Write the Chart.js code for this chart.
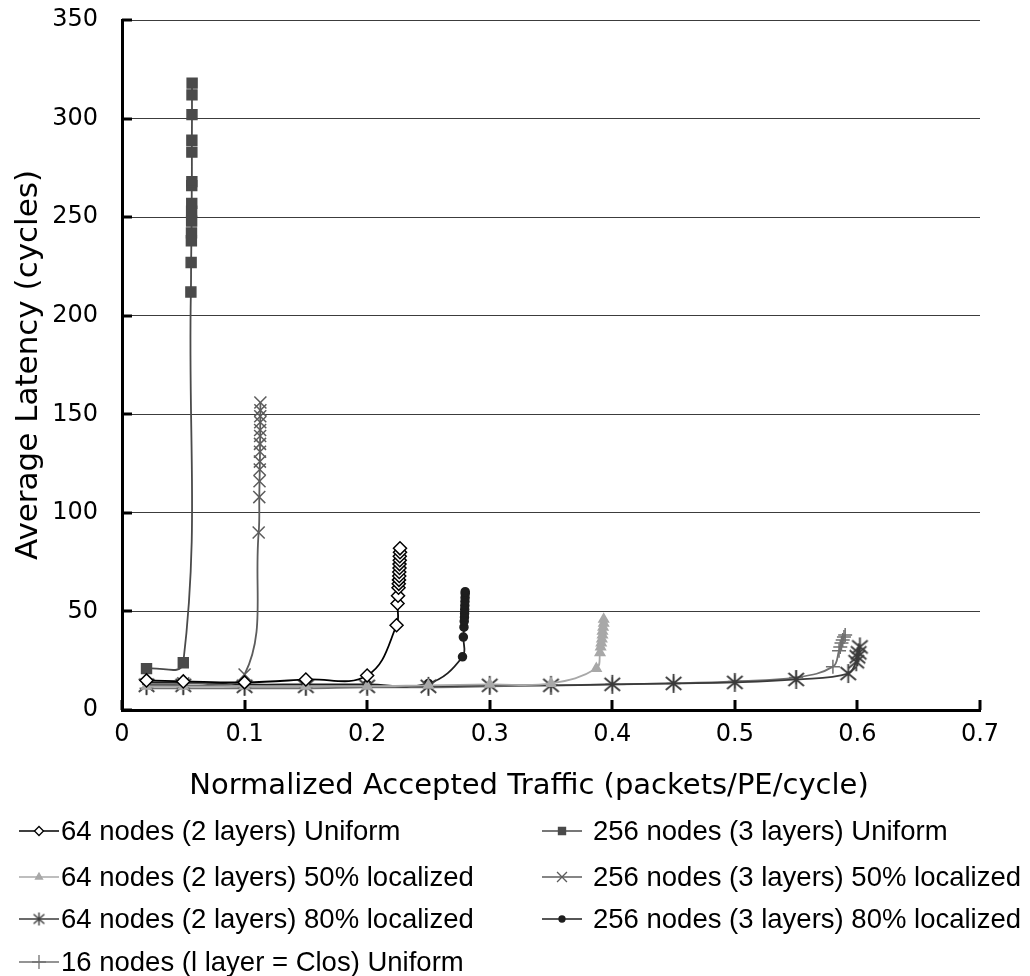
<!DOCTYPE html>
<html>
<head>
<meta charset="utf-8">
<script src="https://cdn.jsdelivr.net/npm/chart.js@4.4.1/dist/chart.umd.min.js"></script>
<style>
  html, body { margin: 0; padding: 0; background: #fff; }
  #wrap { width: 1030px; height: 976px; }
</style>
</head>
<body>
<div id="wrap"><canvas id="latencyChart"></canvas></div>
<script>
// accepted traffic (x) and average latency (y) per configuration
const uni64X = [0.02, 0.05, 0.1, 0.15, 0.2, 0.224, 0.2248, 0.2252, 0.2256, 0.2258, 0.226, 0.2262, 0.2262, 0.2264, 0.2264, 0.2266, 0.2266, 0.2268, 0.2268];
const uni64Y = [15, 14.5, 14, 15.5, 17.5, 43, 54, 58, 62, 64, 66, 68, 70, 72, 74, 76, 78, 80, 82];

const uni256X = [0.02, 0.05, 0.0562, 0.0564, 0.0566, 0.0567, 0.0568, 0.0568, 0.0569, 0.0569, 0.057, 0.057, 0.057, 0.0571, 0.0571, 0.0572];
const uni256Y = [21, 24, 212, 227, 238, 242, 248, 253, 257, 266, 268, 283, 289, 302, 312, 318];

const loc50_64X = [0.02, 0.05, 0.1, 0.15, 0.2, 0.25, 0.3, 0.35, 0.387, 0.39, 0.3905, 0.391, 0.3915, 0.392, 0.392, 0.3925, 0.393, 0.393];
const loc50_64Y = [12, 12, 12, 12, 12, 12.5, 13, 13.5, 21, 29, 32, 34, 36, 38, 40, 42, 44, 46];

const loc50_256X = [0.02, 0.05, 0.1, 0.1115, 0.112, 0.1122, 0.1124, 0.1125, 0.1126, 0.1126, 0.1127, 0.1127, 0.1128, 0.1128, 0.1129, 0.1129];
const loc50_256Y = [13, 13.5, 18, 90, 108, 116, 122, 126, 131, 135, 139, 142, 146, 149, 152, 156];

const loc80_64X = [0.02, 0.05, 0.1, 0.15, 0.2, 0.25, 0.3, 0.35, 0.4, 0.45, 0.5, 0.55, 0.5925, 0.599, 0.6, 0.601, 0.602];
const loc80_64Y = [12.5, 12.5, 12, 12, 12, 12, 12.5, 12.5, 13, 13.5, 14, 15.5, 18.5, 24.5, 27, 29, 32];

const loc80_256X = [0.02, 0.05, 0.1, 0.15, 0.2, 0.25, 0.2778, 0.2785, 0.279, 0.2792, 0.2794, 0.2795, 0.2796, 0.2797, 0.2798, 0.2799, 0.28, 0.28];
const loc80_256Y = [14, 14, 13, 13, 13, 13.5, 27, 37, 42, 45, 47, 49, 51, 53, 55, 57, 59, 60];

const clos16X = [0.02, 0.05, 0.1, 0.15, 0.2, 0.25, 0.3, 0.35, 0.4, 0.45, 0.5, 0.55, 0.58, 0.585, 0.586, 0.587, 0.588, 0.589, 0.59];
const clos16Y = [11, 11, 11, 11, 11.5, 11.5, 12, 12.5, 13, 13.5, 14.5, 16.5, 22, 30, 32, 34, 35.5, 37, 38];

const seriesLabels = [
  "64 nodes (2 layers) Uniform",
  "256 nodes (3 layers) Uniform",
  "64 nodes (2 layers) 50% localized",
  "256 nodes (3 layers) 50% localized",
  "64 nodes (2 layers) 80% localized",
  "256 nodes (3 layers) 80% localized",
  "16 nodes (l layer = Clos) Uniform"
];

const xTitle = "Normalized Accepted Traffic (packets/PE/cycle)";
const yTitle = "Average Latency (cycles)";

const FONT = '"DejaVu Sans", sans-serif';
const LEGEND_FONT = '27.5px "Liberation Sans", Arial, sans-serif';

function pts(xs, ys) {
  return xs.map((x, i) => ({ x: x, y: ys[i] }));
}

// asterisk marker: vertical bar plus two slanted arms
function makeAsterisk(len, color, lw) {
  const c = document.createElement("canvas");
  const s = Math.ceil(len * 2 + 4);
  c.width = s; c.height = s;
  const g = c.getContext("2d");
  g.strokeStyle = color;
  g.lineWidth = lw;
  const m = s / 2;
  g.beginPath();
  g.moveTo(m, m - len); g.lineTo(m, m + len);
  const a = 35 * Math.PI / 180;
  const dx = Math.cos(a) * len, dy = Math.sin(a) * len;
  g.moveTo(m - dx, m - dy - 1); g.lineTo(m + dx, m + dy + 1);
  g.moveTo(m - dx, m + dy + 1); g.lineTo(m + dx, m - dy - 1);
  g.stroke();
  return c;
}

const starBig = makeAsterisk(9.5, "#3a3a3a", 1.8);
const starSmall = makeAsterisk(6.5, "#3a3a3a", 1.4);

function series(label, data, color, style, radius, fill, lStyle, lRadius) {
  return {
    label: label,
    data: data,
    showLine: true,
    tension: 0.4,
    borderColor: color,
    borderWidth: 1.8,
    pointStyle: style,
    pointRadius: radius,
    pointHoverRadius: radius,
    pointBackgroundColor: fill,
    pointBorderColor: color,
    pointBorderWidth: 1.5,
    legendStyle: lStyle,
    legendRadius: lRadius
  };
}

const datasets = [
  series(seriesLabels[0], pts(uni64X, uni64Y), "#000000", "rectRot", 6.5, "#ffffff", "rectRot", 4.5),
  series(seriesLabels[1], pts(uni256X, uni256Y), "#4a4a4a", "rect", 7, "#4a4a4a", "rect", 5),
  series(seriesLabels[2], pts(loc50_64X, loc50_64Y), "#a8a8a8", "triangle", 5.5, "#a8a8a8", "triangle", 4),
  series(seriesLabels[3], pts(loc50_256X, loc50_256Y), "#5c5c5c", "crossRot", 8.5, "#5c5c5c", "crossRot", 7),
  series(seriesLabels[4], pts(loc80_64X, loc80_64Y), "#3a3a3a", starBig, 9, "#3a3a3a", starSmall, 6),
  series(seriesLabels[5], pts(loc80_256X, loc80_256Y), "#1e1e1e", "circle", 4, "#1e1e1e", "circle", 3),
  series(seriesLabels[6], pts(clos16X, clos16Y), "#707070", "cross", 7, "#707070", "cross", 7)
];

// ticks drawn inside the plot, like the original
const innerTicks = {
  id: "innerTicks",
  afterDatasetsDraw(chart) {
    const { ctx, chartArea, scales } = chart;
    ctx.save();
    ctx.strokeStyle = "#000";
    ctx.lineWidth = 3;
    scales.y.ticks.forEach(t => {
      const py = Math.round(scales.y.getPixelForValue(t.value));
      ctx.beginPath();
      ctx.moveTo(chartArea.left, py);
      ctx.lineTo(chartArea.left + 10, py);
      ctx.stroke();
    });
    scales.x.ticks.forEach(t => {
      const px = Math.round(scales.x.getPixelForValue(t.value));
      ctx.beginPath();
      ctx.moveTo(px, chartArea.bottom);
      ctx.lineTo(px, chartArea.bottom - 10);
      ctx.stroke();
    });
    ctx.restore();
  }
};

// x title and two-column legend under the plot
const gridLegend = {
  id: "gridLegend",
  afterDraw(chart) {
    const ctx = chart.ctx;
    ctx.save();
    ctx.fillStyle = "#000";
    ctx.font = "29px " + FONT;
    ctx.textAlign = "center";
    ctx.textBaseline = "middle";
    ctx.fillText(xTitle, 529, 786);
    ctx.restore();

    const cols = [{ line: 19, text: 61 }, { line: 542, text: 593 }];
    const rows = [831, 877, 919, 962];
    chart.data.datasets.forEach((ds, i) => {
      const col = cols[i % 2];
      const y = rows[Math.floor(i / 2)];
      ctx.save();
      ctx.strokeStyle = ds.borderColor;
      ctx.lineWidth = 1.6;
      ctx.beginPath();
      ctx.moveTo(col.line, y);
      ctx.lineTo(col.line + 40, y);
      ctx.stroke();
      ctx.fillStyle = ds.pointBackgroundColor;
      ctx.strokeStyle = ds.pointBorderColor;
      ctx.lineWidth = 1.3;
      Chart.helpers.drawPoint(ctx, {
        pointStyle: ds.legendStyle,
        radius: ds.legendRadius,
        rotation: 0,
        borderWidth: 1.3
      }, col.line + 20, y);
      ctx.fillStyle = "#000";
      ctx.font = LEGEND_FONT;
      ctx.textBaseline = "middle";
      ctx.fillText(ds.label, col.text, y + 1);
      ctx.restore();
    });
  }
};

Chart.defaults.font.family = FONT;
Chart.defaults.color = "#000";

new Chart(document.getElementById("latencyChart"), {
  type: "scatter",
  data: { datasets: datasets },
  plugins: [innerTicks, gridLegend],
  options: {
    responsive: true,
    maintainAspectRatio: false,
    animation: false,
    layout: { padding: { left: 0, right: 50, top: 20, bottom: 166 } },
    plugins: {
      legend: { display: false },
      tooltip: { enabled: false }
    },
    scales: {
      x: {
        type: "linear",
        min: 0,
        max: 0.7,
        afterFit(scale) { scale.height = 100; },
        ticks: {
          stepSize: 0.1,
          padding: 10,
          font: { size: 24 },
          color: "#000",
          callback: v => (v === 0 ? "0" : v.toFixed(1))
        },
        grid: { display: false, drawTicks: false },
        border: { display: true, color: "#000", width: 3 },
        title: { display: false }
      },
      y: {
        min: 0,
        max: 350,
        afterFit(scale) {
          scale.width = 122;
          scale.paddingTop = 0;
          scale.paddingBottom = 0;
        },
        ticks: {
          stepSize: 50,
          padding: 24,
          font: { size: 24 },
          color: "#000"
        },
        grid: { color: "#3c3c3c", lineWidth: 1, drawTicks: false },
        border: { display: true, color: "#000", width: 3 },
        title: {
          display: true,
          text: yTitle,
          font: { size: 31 },
          color: "#000",
          padding: { top: 10, bottom: 0 }
        }
      }
    }
  }
});
</script>
</body>
</html>
